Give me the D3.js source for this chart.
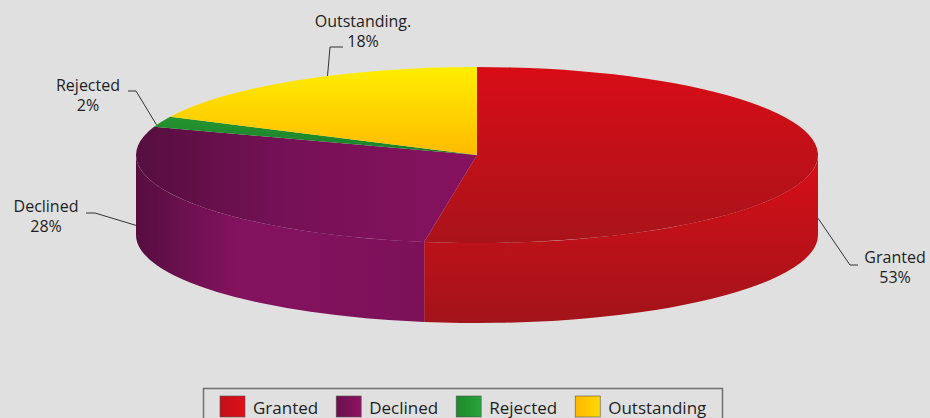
<!DOCTYPE html>
<html>
<head>
<meta charset="utf-8">
<script src="https://cdn.jsdelivr.net/npm/d3@7/dist/d3.min.js"></script>
<style>
  html, body { margin: 0; padding: 0; background: #e0e0e0; }
  svg { display: block; }
  text { font-family: "Open Sans", sans-serif; fill: #1e1e1e; }
</style>
</head>
<body>
<svg id="chart" width="930" height="418"></svg>
<script>
// Application outcomes (share of total, %)
const categories = ["Granted", "Declined", "Rejected", "Outstanding"];
const values = [53, 28, 2, 18];
const sliceLabels = ["Granted", "Declined", "Rejected", "Outstanding."];
const percentLabels = ["53%", "28%", "2%", "18%"];

// Colour ramps per slice: [top-face stops], [side stops], legend swatch
const topStops = [
  [["0%", "#d80d16"], ["100%", "#a9131a"]],
  [["0%", "#560e3f"], ["45%", "#761156"], ["100%", "#86125f"]],
  [["0%", "#24952f"], ["100%", "#1b7f29"]],
  [["0%", "#ffee00"], ["100%", "#ffbb00"]]
];
const sideStops = [
  [["0%", "#d80e17"], ["100%", "#a2141a"]],
  [["0%", "#560e3f"], ["35%", "#84125f"], ["100%", "#7c1159"]],
  [["0%", "#1e8a2c"], ["100%", "#176f23"]],
  [["0%", "#ffc400"], ["100%", "#e0a800"]]
];
const topVertical = [true, false, true, true];
const sideVertical = [true, false, true, true];
const swatchStops = [
  [["0%", "#c10f18"], ["100%", "#e0101a"]],
  [["0%", "#6c0f4c"], ["100%", "#8a1363"]],
  [["0%", "#1d8a2b"], ["100%", "#2aa23a"]],
  [["0%", "#ffb800"], ["100%", "#ffd800"]]
];

// Pie geometry
const cx = 477, cy = 155, rx = 341, ry = 88, depth = 80;

// Label layout: text centre, baseline of first line, and leader path
// (anchor given as an angle on the rim plus a fraction of the side height)
const labelLayout = [
  { x: 895, y: 263, anchorAngle: 90,  anchorDepth: 0.79, elbow: [850, 265], end: [858, 265] },
  { x: 46,  y: 212, anchorAngle: 270, anchorDepth: 0.88, elbow: [95, 213],  end: [86, 213] },
  { x: 88,  y: 91,  anchorAngle: 290, anchorDepth: 0,    elbow: [136, 91],  end: [128, 91] },
  { x: 363, y: 27,  anchorAngle: 334, anchorDepth: 0,    elbow: [330, 47],  end: [343, 47] }
];
const lineGap = 20;

const svg = d3.select("#chart");
const defs = svg.append("defs");

function addGradient(id, stops, vertical) {
  const g = defs.append("linearGradient").attr("id", id)
    .attr("x1", 0).attr("y1", 0)
    .attr("x2", vertical ? 0 : 1).attr("y2", vertical ? 1 : 0);
  stops.forEach(s => g.append("stop").attr("offset", s[0]).attr("stop-color", s[1]));
}
categories.forEach((c, i) => {
  addGradient("top" + i, topStops[i], topVertical[i]);
  addGradient("side" + i, sideStops[i], sideVertical[i]);
  addGradient("sw" + i, swatchStops[i], false);
});

const arcs = d3.pie().sort(null).value(d => d)(values);

function pt(a, dz) {
  return [cx + rx * Math.sin(a), cy - ry * Math.cos(a) + (dz || 0)];
}
function f(p) { return p[0].toFixed(2) + "," + p[1].toFixed(2); }

// Top face of a slice: centre -> rim arc -> centre
function topPath(a0, a1) {
  const p0 = pt(a0), p1 = pt(a1);
  const large = (a1 - a0) > Math.PI ? 1 : 0;
  return `M${cx},${cy}L${f(p0)}A${rx},${ry} 0 ${large} 1 ${f(p1)}Z`;
}
// Visible outer wall of a slice (front half only)
function sidePath(a0, a1) {
  const s = Math.max(a0, Math.PI / 2), e = Math.min(a1, 3 * Math.PI / 2);
  if (e <= s) return null;
  const large = (e - s) > Math.PI ? 1 : 0;
  return `M${f(pt(s))}A${rx},${ry} 0 ${large} 1 ${f(pt(e))}` +
         `L${f(pt(e, depth))}A${rx},${ry} 0 ${large} 0 ${f(pt(s, depth))}Z`;
}

const pie = svg.append("g");
arcs.forEach((d, i) => {
  const p = sidePath(d.startAngle, d.endAngle);
  if (p) pie.append("path").attr("d", p).attr("fill", `url(#side${i})`);
});
arcs.forEach((d, i) => {
  pie.append("path").attr("d", topPath(d.startAngle, d.endAngle))
    .attr("fill", `url(#top${i})`);
});

// Data labels with leader lines
const labels = svg.append("g");
arcs.forEach((d, i) => {
  const L = labelLayout[i];
  const a = L.anchorAngle * Math.PI / 180;
  const anchor = pt(a, L.anchorDepth * depth);
  labels.append("path")
    .attr("d", `M${f(anchor)}L${f(L.elbow)}L${f(L.end)}`)
    .attr("fill", "none").attr("stroke", "#333").attr("stroke-width", 1);
  const g = labels.append("g").attr("font-size", 16).attr("text-anchor", "middle");
  g.append("text").attr("x", L.x).attr("y", L.y).text(sliceLabels[i]);
  g.append("text").attr("x", L.x).attr("y", L.y + lineGap).text(percentLabels[i]);
});

// Legend
const legend = svg.append("g");
legend.append("rect").attr("x", 203.5).attr("y", 388.5).attr("width", 519).attr("height", 40)
  .attr("fill", "none").attr("stroke", "#707070").attr("stroke-width", 1.5);
let lx = 220;
categories.forEach((c, i) => {
  legend.append("rect").attr("x", lx).attr("y", 396).attr("width", 25).attr("height", 21)
    .attr("fill", `url(#sw${i})`).attr("stroke", "#555").attr("stroke-width", 0.6);
  const t = legend.append("text").attr("x", lx + 33).attr("y", 414)
    .attr("font-size", 17).text(c);
  lx = lx + 33 + t.node().getComputedTextLength() + 18;
});
</script>
</body>
</html>
